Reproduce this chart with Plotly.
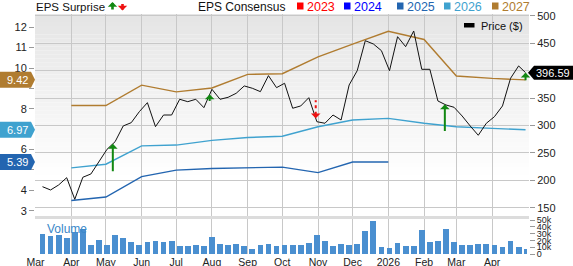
import numpy as np
import pandas as pd
import plotly.graph_objects as go

# ---------------- data ----------------
# weekly closing price ($); last point is the latest close
price_dates = list(pd.date_range("2025-03-07", periods=60, freq="7D")) + [pd.Timestamp("2026-04-30")]
price_values = [188.5, 182.5, 191.6, 204.9, 165.5, 205.7, 211.7, 235.4, 256.8, 270.6,
                299.3, 305.3, 325.4, 341.8, 298.0, 319.3, 319.3, 348.0, 343.6, 348.0,
                332.7, 366.2, 348.0, 351.6, 358.9, 372.3, 368.1, 361.9, 391.1, 369.2,
                377.2, 331.6, 335.8, 350.9, 307.1, 304.2, 319.3, 310.2, 374.1, 400.2,
                454.9, 448.9, 436.7, 400.2, 462.2, 444.0, 472.6, 402.7, 402.7, 344.9,
                337.6, 333.4, 317.5, 299.3, 282.3, 304.2, 316.2, 335.8, 386.3, 408.8,
                396.59]

# weekly volume (shares)
volume_values = [29000, 27000, 28500, 23500, 32000, 37000, 12700, 20000, 13700, 28000,
                 23000, 17600, 13000, 17600, 19000, 17000, 18600, 12000, 11800, 13000,
                 11800, 25000, 14000, 12700, 14700, 11300, 7400, 12700, 15000, 11800,
                 13000, 13000, 12700, 16700, 27500, 19600, 11800, 14700, 13700, 15200,
                 34000, 49000, 9800, 8800, 15700, 12300, 11300, 35000, 17600, 19600,
                 37000, 18000, 13000, 13000, 14700, 14000, 13000, 10300, 18600, 9800,
                 7400]

# EPS consensus by fiscal year, sampled at month starts
cons_dates = list(pd.date_range("2025-04-01", "2026-04-01", freq="MS")) + [pd.Timestamp("2026-04-30")]
eps_2027 = [8.16, 8.16, 9.16, 8.83, 9.02, 9.69, 9.72, 10.55, 11.17, 11.80, 11.40, 9.61, 9.49, 9.42]
eps_2026 = [5.10, 5.28, 6.18, 6.22, 6.45, 6.59, 6.65, 7.12, 7.45, 7.53, 7.29, 7.12, 7.04, 6.97]
eps_2025 = [3.50, 3.67, 4.67, 4.99, 5.07, 5.12, 5.14, 4.87, 5.39, 5.39]
eps_2025_dates = cons_dates[:10]

# earnings reports: date and beat (+1) / miss (-1)
surprise_dates = ["2025-05-07", "2025-07-30", "2025-10-30", "2026-02-19", "2026-04-30"]
surprise_sign = [1, 1, -1, 1, 1]

year_labels = ["2023", "2024", "2025", "2026", "2027"]
month_ticks = list(pd.date_range("2025-03-01", "2026-04-01", freq="MS"))
month_text = ["Mar", "Apr", "May", "Jun", "Jul", "Aug", "Sep", "Oct", "Nov", "Dec",
              "2026", "Feb", "Mar", "Apr"]
eps_ticks = [3, 4, 5, 6, 7, 8, 9, 10, 11, 12]
eps_tick_text = ["3", "4", "", "6", "", "8", "", "10", "11", "12"]
price_ticks = [150, 200, 250, 300, 350, 400, 450, 500]
price_tick_text = ["150", "200", "250", "300", "350", "", "450", "500"]

# ---------------- styling ----------------
W, H = 573, 266
ML, MR, MT, MB = 35, 44, 14, 12
PW, PH = W - ML - MR, H - MT - MB
FONT = "Liberation Sans, Arial, sans-serif"
C2023, C2024, C2025, C2026, C2027 = "#ff0000", "#0000ff", "#2365b0", "#3fa2cf", "#b07c30"
GREEN, RED = "#128812", "#ee1111"
GRID = "#c8c8c8"


def px(xp):
    return (xp - ML) / PW


def py(yp):
    return (H - MB - yp) / PH


price_dom = [py(216), 1]
vol_dom = [0, py(219)]

fig = go.Figure()

# consensus lines (left axis)
for vals, dates, col in [(eps_2025, eps_2025_dates, C2025),
                         (eps_2026, cons_dates, C2026),
                         (eps_2027, cons_dates, C2027)]:
    fig.add_trace(go.Scatter(x=dates, y=vals, mode="lines", yaxis="y",
                             line=dict(color=col, width=1.4), showlegend=False,
                             hoverinfo="skip"))

# price line (right axis)
fig.add_trace(go.Scatter(x=price_dates, y=price_values, mode="lines", yaxis="y2",
                         line=dict(color="#111111", width=1), showlegend=False))

# volume bars
bar_w = [5 * 86400000] * (len(volume_values) - 1) + [3 * 86400000]
fig.add_trace(go.Bar(x=price_dates, y=volume_values, yaxis="y3", width=bar_w,
                     marker=dict(color="#4a8fd0", line=dict(width=0)), showlegend=False))

shapes = []
annotations = []

# price pane background: grey at the top fading to white
n_bands = 40
top_px, bot_px = 14, 175
for i in range(n_bands):
    y0 = top_px + (bot_px - top_px) * i / n_bands
    y1 = top_px + (bot_px - top_px) * (i + 1) / n_bands
    g = int(229 + (255 - 229) * (i + 0.5) / n_bands)
    shapes.append(dict(type="rect", xref="paper", yref="paper", x0=0, x1=1,
                       y0=py(y1), y1=py(y0), fillcolor=f"rgb({g},{g},{g})",
                       line=dict(width=0), layer="below"))

# separator between price and volume panes
shapes.append(dict(type="rect", xref="paper", yref="paper", x0=0, x1=1,
                   y0=py(219), y1=py(216), fillcolor="#dcdcdc", line=dict(width=0),
                   layer="below"))

# surprise arrows, anchored on the price at the report date
t_index = np.array([t.value for t in price_dates], dtype=float)
arrow_len = [29, 8, 18, 28, 9]
for d, s, ln in zip(surprise_dates, surprise_sign, arrow_len):
    t = pd.Timestamp(d)
    yv = float(np.interp(float(t.value), t_index, price_values))
    if s > 0:
        annotations.append(dict(x=t, y=yv, xref="x", yref="y2", text="", showarrow=True,
                                ax=0, ay=ln, arrowhead=1, arrowsize=0.8, arrowwidth=2,
                                arrowcolor=GREEN, standoff=0))
    else:
        annotations.append(dict(x=t, y=yv, xref="x", yref="y2", text="", showarrow=True,
                                ax=0, ay=-8, arrowhead=1, arrowsize=0.8, arrowwidth=2,
                                arrowcolor=RED, standoff=0))
        shapes.append(dict(type="line", xref="x", yref="y2", x0=t, x1=t,
                           ysizemode="pixel", yanchor=yv, y0=10, y1=ln,
                           line=dict(color=RED, width=2, dash="dot")))

# value tags on the left for the current consensus
for val, col in [(eps_2027[-1], C2027), (eps_2026[-1], C2026), (eps_2025[-1], C2025)]:
    shapes.append(dict(type="path", xref="paper", yref="y", xsizemode="pixel",
                       ysizemode="pixel", xanchor=0, yanchor=val,
                       path="M -35,8 L -4,8 L 0,0 L -4,-8 L -35,-8 Z",
                       fillcolor=col, line=dict(width=0), layer="above"))
    annotations.append(dict(x=px(17), y=val, xref="paper", yref="y", text=f"{val:.2f}",
                            showarrow=False, font=dict(color="white", size=11, family=FONT),
                            xanchor="center", yanchor="middle"))

# last price tag on the right
last_p = price_values[-1]
shapes.append(dict(type="path", xref="paper", yref="y2", xsizemode="pixel",
                   ysizemode="pixel", xanchor=1, yanchor=last_p,
                   path="M -1,0 L 5,7 L 44,7 L 44,-7 L 5,-7 Z",
                   fillcolor="#000000", line=dict(width=0), layer="above"))
annotations.append(dict(x=px(553), y=last_p, xref="paper", yref="y2", text=f"{last_p:.2f}",
                        showarrow=False, font=dict(color="white", size=11, family=FONT),
                        xanchor="center", yanchor="middle"))

# header: EPS Surprise / EPS Consensus legends
annotations.append(dict(x=px(34), y=py(6.5), xref="paper", yref="paper", text="EPS Surprise",
                        showarrow=False, xanchor="left", yanchor="middle",
                        font=dict(size=11.5, color="#111", family=FONT)))
annotations.append(dict(x=px(112.5), y=py(2), xref="paper", yref="paper", text="",
                        showarrow=True, ax=0, ay=9, arrowhead=1, arrowsize=0.6,
                        arrowwidth=2.6, arrowcolor=GREEN, standoff=0))
annotations.append(dict(x=px(122.5), y=py(10.5), xref="paper", yref="paper", text="",
                        showarrow=True, ax=0, ay=-8, arrowhead=1, arrowsize=0.6,
                        arrowwidth=2.6, arrowcolor=RED, standoff=0))
annotations.append(dict(x=px(196), y=py(6.5), xref="paper", yref="paper", text="EPS Consensus",
                        showarrow=False, xanchor="left", yanchor="middle",
                        font=dict(size=12, color="#111", family=FONT)))
for lab, col, sx in zip(year_labels, [C2023, C2024, C2025, C2026, C2027],
                        [297, 344, 397, 444, 492]):
    shapes.append(dict(type="rect", xref="paper", yref="paper", x0=px(sx), x1=px(sx + 6.5),
                       y0=py(9.5), y1=py(2.5), fillcolor=col, line=dict(width=0)))
    annotations.append(dict(x=px(sx + 8), y=py(6.5), xref="paper", yref="paper", text=lab,
                            showarrow=False, xanchor="left", yanchor="middle",
                            font=dict(size=12.5, color=col, family=FONT)))

# price legend inside the plot
shapes.append(dict(type="rect", xref="paper", yref="paper", x0=px(464), x1=px(474.5),
                   y0=py(27.5), y1=py(23), fillcolor="#000", line=dict(width=0)))
annotations.append(dict(x=px(479), y=py(25.5), xref="paper", yref="paper", text="Price ($)",
                        showarrow=False, xanchor="left", yanchor="middle",
                        font=dict(size=11, color="#111", family=FONT)))

# volume label
annotations.append(dict(x=px(45), y=py(229), xref="paper", yref="paper", text="Volume",
                        showarrow=False, xanchor="left", yanchor="middle",
                        font=dict(size=12, color="#3a87c8", family=FONT)))

tickfont = dict(size=11, color="#222", family=FONT)
fig.update_layout(
    width=W, height=H,
    margin=dict(l=ML, r=MR, t=MT, b=MB, pad=0, autoexpand=False),
    paper_bgcolor="white", plot_bgcolor="rgba(0,0,0,0)",
    font=dict(family=FONT),
    showlegend=False,
    bargap=0,
    xaxis=dict(anchor="y3", range=["2025-02-28 12:00", "2026-05-03"],
               tickvals=month_ticks, ticktext=month_text, showgrid=True,
               gridcolor=GRID, gridwidth=1, ticks="", ticklen=0,
               tickfont=dict(size=10.5, color="#222", family=FONT),
               zeroline=False, showline=False, automargin=False),
    yaxis=dict(domain=price_dom, range=[2.74, 12.65], tickvals=eps_ticks,
               ticktext=eps_tick_text, side="left",
               showgrid=False, zeroline=False, ticks="outside", ticklen=5,
               tickcolor="#999", tickfont=tickfont, anchor="x", automargin=False),
    yaxis2=dict(domain=price_dom, overlaying="y", side="right", range=[135, 503.6],
                tickvals=price_ticks, ticktext=price_tick_text, showgrid=True,
                gridcolor=GRID, gridwidth=1,
                zeroline=False, ticks="outside", ticklen=5, tickcolor="#999",
                tickfont=tickfont, anchor="x", automargin=False),
    yaxis3=dict(domain=vol_dom, side="right", range=[0, 51500], dtick=10000,
                tickformat="~s", showgrid=False, zeroline=False, ticks="outside",
                ticklen=5, tickcolor="#999",
                tickfont=dict(size=9, color="#222", family=FONT), anchor="x",
                automargin=False),
    shapes=shapes,
    annotations=annotations,
)

fig.write_html("out.html")
